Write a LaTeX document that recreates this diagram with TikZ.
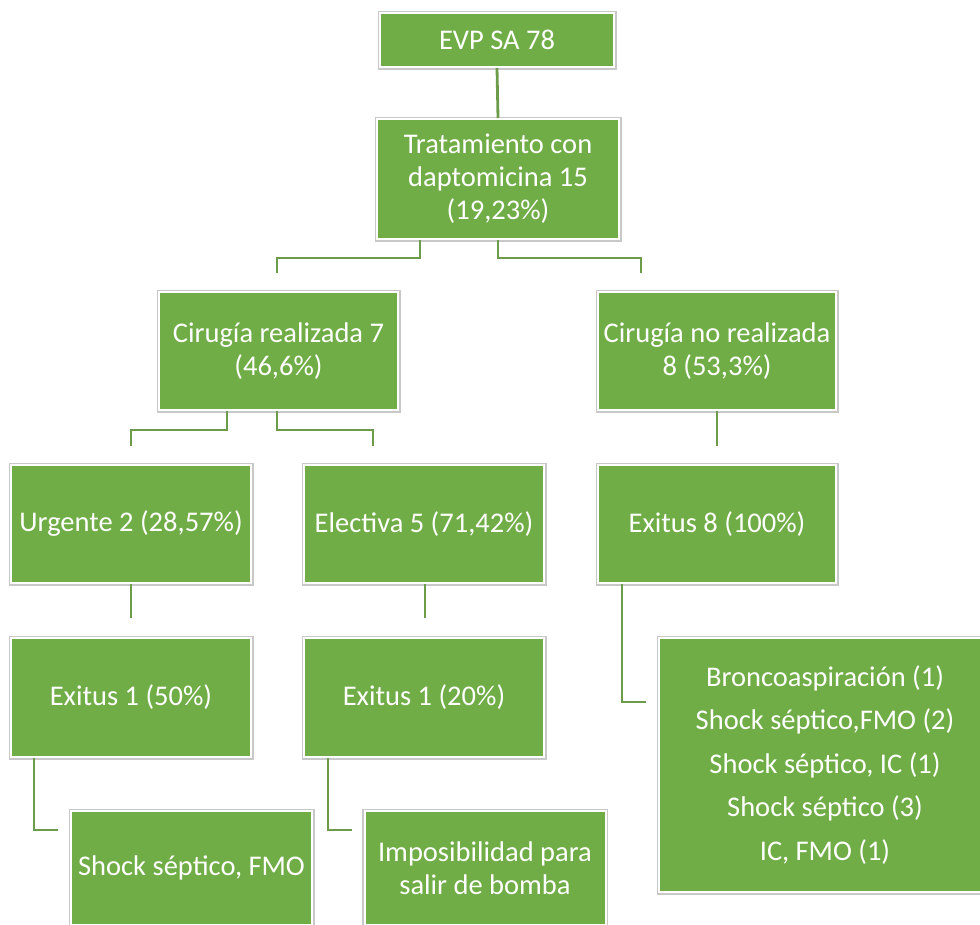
\documentclass[tikz,border=0pt]{standalone}
\usepackage{fontspec}
\setmainfont{Carlito}
\definecolor{boxgreen}{RGB}{112,173,71}
\definecolor{boxgray}{RGB}{200,200,200}
\definecolor{linegreen}{RGB}{108,156,74}
\begin{document}
\begin{tikzpicture}[x=1pt,y=-1pt,
  box/.style={rectangle, fill=boxgreen, draw=white, line width=2pt,
    preaction={draw=boxgray, line width=5pt},
    text=white, align=center, inner sep=0pt,
    font=\fontsize{28.5}{33}\selectfont},
  conn/.style={draw=linegreen, line width=2.8pt}]
\useasboundingbox (0,0) rectangle (980,924);
\node[box, minimum width=234pt, minimum height=54pt] (evp) at (497,40) {EVP SA 78};
\node[box, minimum width=242pt, minimum height=120pt] (trat) at (498,179) {Tratamiento con\\daptomicina 15\\(19,23\%)};
\node[box, minimum width=239pt, minimum height=118pt] (cr) at (278.5,351) {Cirugía realizada 7\\(46,6\%)};
\node[box, minimum width=238pt, minimum height=118pt] (cnr) at (717,351) {Cirugía no realizada\\8 (53,3\%)};
\node[box, minimum width=240pt, minimum height=118pt] (urg) at (131,524) {Urgente 2 (28,57\%)};
\node[box, minimum width=240pt, minimum height=118pt] (elec) at (424,524) {Electiva 5 (71,42\%)};
\node[box, minimum width=238pt, minimum height=118pt] (ex8) at (717,524) {Exitus 8 (100\%)};
\node[box, minimum width=240pt, minimum height=119pt] (ex50) at (131,697.5) {Exitus 1 (50\%)};
\node[box, minimum width=240pt, minimum height=119pt] (ex20) at (424,697.5) {Exitus 1 (20\%)};
\node[box, minimum width=332pt, minimum height=254pt, font=\fontsize{28.5}{43.5}\selectfont] (list) at (825,765) {Broncoaspiración (1)\\Shock séptico,FMO (2)\\Shock séptico, IC (1)\\Shock séptico (3)\\IC, FMO (1)};
\node[box, minimum width=241pt, minimum height=114pt] (shock) at (191.5,868) {Shock séptico, FMO};
\node[box, minimum width=241pt, minimum height=114pt] (impo) at (485,868) {Imposibilidad para\\salir de bomba};
% free ends
\coordinate (t1) at (277,273);
\coordinate (t2) at (641,273);
\coordinate (c1) at (131,446);
\coordinate (c2) at (373,446);
\coordinate (n1) at (717,446);
\coordinate (u1) at (131,618);
\coordinate (e1) at (425,618);
\coordinate (x1) at (646,702);
\coordinate (s1) at (58,830);
\coordinate (i1) at (352,830);
% connectors
\draw[conn] (evp.south) -- (trat.north);
\draw[conn] (420,0 |- trat.south) -- (420,258) -| (t1);
\draw[conn] (498,0 |- trat.south) -- (498,258) -| (t2);
\draw[conn] (227,0 |- cr.south) -- (227,430) -| (c1);
\draw[conn] (277,0 |- cr.south) -- (277,430) -| (c2);
\draw[conn] (cnr.south) -- (n1);
\draw[conn] (urg.south) -- (u1);
\draw[conn] (425,0 |- elec.south) -- (e1);
\draw[conn] (622,0 |- ex8.south) |- (x1);
\draw[conn] (34,0 |- ex50.south) |- (s1);
\draw[conn] (328,0 |- ex20.south) |- (i1);
\end{tikzpicture}
\end{document}
